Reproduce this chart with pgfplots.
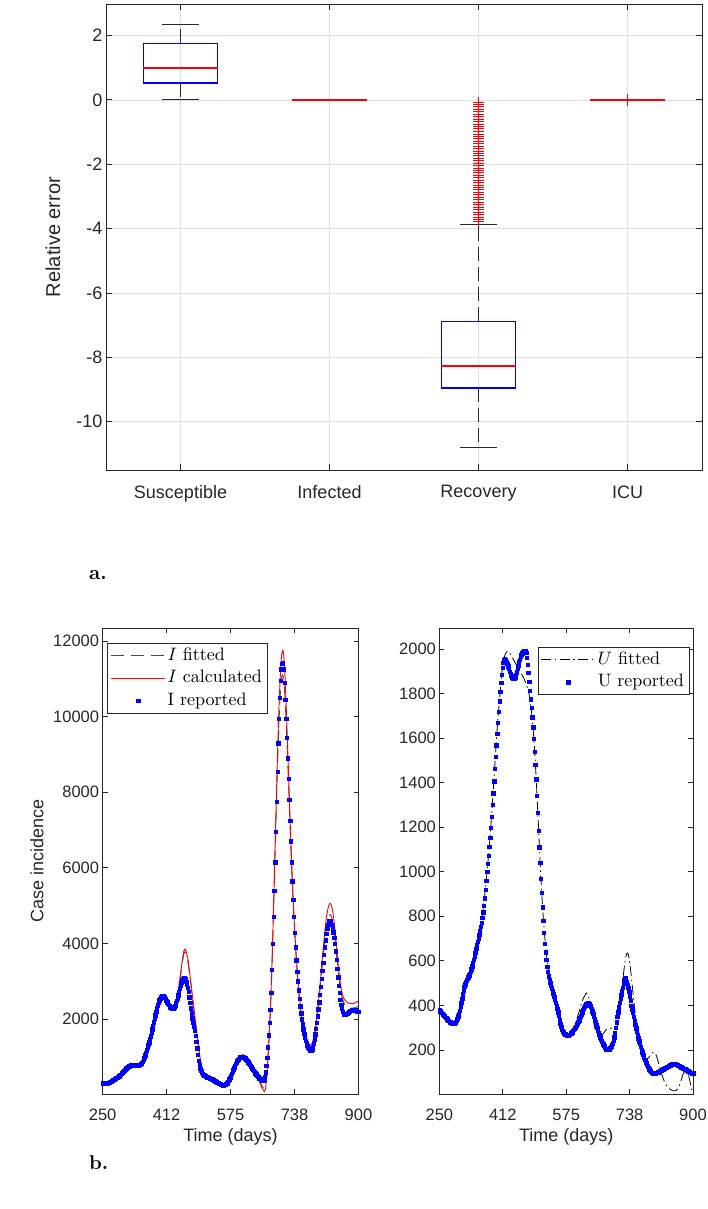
\documentclass[border=0pt]{standalone}
\usepackage{graphicx}
\usepackage{pgfplots}
\pgfplotsset{compat=1.18}
\usepackage{fontspec}
\setsansfont{Liberation Sans}

\definecolor{axgray}{RGB}{38,38,38}
\definecolor{gridgray}{RGB}{223,223,223}
\definecolor{whisk}{RGB}{40,40,40}
\definecolor{mblue}{RGB}{0,0,255}
\definecolor{mred}{RGB}{255,0,0}

\newcommand\tickA{\sffamily\fontsize{18}{20}\selectfont}
\newcommand\labA{\sffamily\fontsize{20}{22}\selectfont}
\newcommand\tickB{\sffamily\fontsize{16.5}{18}\selectfont}
\newcommand\labB{\sffamily\fontsize{18}{20}\selectfont}
% legend text: 10pt design size, enlarged
\newcommand\leg[1]{\scalebox{1.8}{\fontsize{10}{12}\selectfont #1}}

\pgfplotsset{
  matlabframe/.style={
    scale only axis,
    axis line style={axgray, line width=0.8pt},
    tick style={axgray, line width=0.8pt},
    tick align=inside, xtick pos=both, ytick pos=both,
    scaled ticks=false,
  },
  panelb/.style={
    matlabframe,
    height=466.3pt,
    major tick length=5pt,
    xmin=250, xmax=900,
    xtick={250,412.5,575,737.5,900},
    xticklabels={250,412,575,738,900},
    tick label style={font=\tickB, text=axgray},
    xticklabel style={yshift=-11pt},
    xlabel={Time (days)},
    xlabel style={font=\labB, text=axgray, at={(axis description cs:0.5,-0.092)}, anchor=center},
    legend cell align=left,
    legend style={draw=axgray, line width=0.6pt, fill=white,
      inner xsep=3pt, inner ysep=1pt,
      nodes={inner sep=2pt, text height=13.5pt, text depth=5pt}},
    legend image code/.code={\draw[mark repeat=2,mark phase=2,#1] plot coordinates {(0pt,0pt)(27pt,0pt)(54pt,0pt)};},
  },
}

\begin{document}
\begin{tikzpicture}[x=1pt,y=1pt]
\path[use as bounding box] (0pt,0pt) rectangle (708pt,1209pt);

% ---------------- a. relative error box plots ----------------
\begin{axis}[
  matlabframe,
  at={(106pt,739pt)}, anchor=south west,
  width=596pt, height=466pt,
  xmin=0.5, xmax=4.5, ymin=-11.5, ymax=2.98,
  xtick={1,2,3,4}, xticklabels={Susceptible,Infected,Recovery,ICU},
  ytick={-10,-8,-6,-4,-2,0,2}, yticklabels={-10,-8,-6,-4,-2,0,2},
  major tick length=6pt,
  grid=major, major grid style={gridgray, line width=0.6pt},
  tick label style={font=\tickA, text=axgray},
  xticklabel style={yshift=-12pt},
  ylabel={Relative error},
  ylabel style={font=\labA, text=axgray, at={(axis description cs:-0.0889,0.5)}, anchor=center},
]
% whiskers (dashed) and caps
\addplot[whisk, line width=0.9pt, dash pattern=on 14pt off 6pt] coordinates {(1,1.76) (1,2.35)};
\addplot[whisk, line width=0.9pt, dash pattern=on 14pt off 6pt] coordinates {(1,0.53) (1,0)};
\addplot[whisk, line width=0.9pt] coordinates {(0.875,2.35) (1.125,2.35)};
\addplot[whisk, line width=0.9pt] coordinates {(0.875,0) (1.125,0)};
\addplot[whisk, line width=0.9pt] coordinates {(1.875,0) (2.125,0)};
\addplot[whisk, line width=0.9pt, dash pattern=on 14pt off 6pt] coordinates {(3,-6.88) (3,-3.86)};
\addplot[whisk, line width=0.9pt, dash pattern=on 14pt off 6pt] coordinates {(3,-8.95) (3,-10.8)};
\addplot[whisk, line width=0.9pt] coordinates {(2.875,-3.86) (3.125,-3.86)};
\addplot[whisk, line width=0.9pt] coordinates {(2.875,-10.8) (3.125,-10.8)};
\addplot[whisk, line width=0.9pt] coordinates {(3.875,0) (4.125,0)};
% boxes
\addplot[mblue, line width=1.4pt] coordinates {(0.75,0.53) (1.25,0.53) (1.25,1.76) (0.75,1.76) (0.75,0.53)};
\addplot[mblue, line width=1.4pt] coordinates {(1.75,0) (2.25,0)};
\addplot[mblue, line width=1.4pt] coordinates {(2.75,-8.95) (3.25,-8.95) (3.25,-6.88) (2.75,-6.88) (2.75,-8.95)};
\addplot[mblue, line width=1.4pt] coordinates {(3.75,0) (4.25,0)};
% medians
\addplot[mred, line width=1.6pt] coordinates {(0.75,1.0) (1.25,1.0)};
\addplot[mred, line width=1.6pt] coordinates {(1.75,0) (2.25,0)};
\addplot[mred, line width=1.6pt] coordinates {(2.75,-8.26) (3.25,-8.26)};
\addplot[mred, line width=1.6pt] coordinates {(3.75,0) (4.25,0)};
% outliers
\addplot[only marks, mark=+, mred, mark size=5.5pt, line width=1pt] coordinates {
 (3,-3.78) (3,-3.71) (3,-3.64) (3,-3.56) (3,-3.49) (3,-3.41) (3,-3.33) (3,-3.26) (3,-3.18) (3,-3.11)
 (3,-3.03) (3,-2.95) (3,-2.88) (3,-2.80) (3,-2.73) (3,-2.65) (3,-2.57) (3,-2.50) (3,-2.42) (3,-2.35)
 (3,-2.27) (3,-2.20) (3,-2.12) (3,-2.04) (3,-1.97) (3,-1.89) (3,-1.82) (3,-1.74) (3,-1.66) (3,-1.59)
 (3,-1.51) (3,-1.44) (3,-1.36) (3,-1.28) (3,-1.21) (3,-1.13) (3,-1.06) (3,-0.98) (3,-0.90) (3,-0.83)
 (3,-0.75) (3,-0.68) (3,-0.60) (3,-0.52) (3,-0.45) (3,-0.37) (3,-0.30) (3,-0.22) (3,-0.14) (3,-0.07)};
\addplot[only marks, mark=+, mred, mark size=6pt, line width=1.1pt] coordinates {(4,0)};
\end{axis}

\node[anchor=base west, inner sep=0pt] at (89pt,629pt) {\scalebox{2}{\fontsize{10}{12}\selectfont\bfseries a.}};

% ---------------- b. left: I ----------------
\begin{axis}[
  panelb,
  at={(102.6pt,114.7pt)}, anchor=south west,
  width=255.9pt,
  ymin=10, ymax=12344,
  ytick={2000,4000,6000,8000,10000,12000},
  yticklabels={2000,4000,6000,8000,10000,12000},
  ylabel={Case incidence},
  ylabel style={font=\labB, text=axgray, at={(axis description cs:-0.2563,0.5)}, anchor=center},
  legend style={at={(axis description cs:0.0188,0.967)}, anchor=north west},
]
\addplot[black!70, line width=0.9pt, dash pattern=on 13pt off 7pt, smooth] coordinates {
 (250,300) (260,305) (270,340) (280,405) (290,475) (300,580) (310,700) (320,768) (330,784) (340,783)
 (346,800) (352,880) (360,1110) (368,1390) (376,1730) (384,2100) (392,2440) (400,2590) (406,2580) (414,2450)
 (420,2345) (427,2285) (434,2370) (440,2600) (446,3000) (452,3450) (456,3700) (459,3780) (462,3740) (466,3560)
 (470,3270) (476,2760) (482,2250) (488,1740) (494,1230) (500,830) (505,620) (510,520) (520,445) (530,390)
 (540,330) (550,275) (556,253) (562,268) (568,335) (576,500) (584,710) (592,900) (600,1000) (606,1030)
 (612,990) (620,870) (630,700) (640,530) (648,380) (654,250) (658,180) (661,160) (664,230) (667,500)
 (670,1000) (674,1720) (678,2700) (682,4000) (686,5550) (690,7100) (694,8600) (698,9850) (702,10700) (705,11050)
 (708,11100) (711,10850) (714,10350) (718,9400) (722,8300) (726,7150) (730,6050) (734,5100) (738,4250) (744,3250)
 (750,2500) (756,1950) (762,1570) (768,1340) (774,1240) (778,1230) (782,1280) (788,1520) (794,1950) (800,2520)
 (806,3180) (812,3840) (818,4400) (824,4700) (828,4760) (832,4680) (836,4460) (840,4120) (846,3500) (852,2950)
 (858,2580) (864,2400) (870,2330) (876,2300) (882,2290) (888,2295) (894,2310) (900,2340)};
\addlegendentry{\leg{$I$ fitted}}
\addplot[mred, line width=0.9pt, smooth] coordinates {
 (250,300) (260,305) (270,340) (280,405) (290,475) (300,580) (310,700) (320,768) (330,784) (340,783)
 (346,800) (352,880) (360,1110) (368,1390) (376,1730) (384,2100) (392,2440) (400,2600) (406,2590) (414,2450)
 (420,2345) (427,2285) (434,2380) (440,2620) (446,3050) (452,3520) (456,3780) (459,3850) (462,3800) (466,3620)
 (470,3320) (476,2800) (482,2280) (488,1760) (494,1240) (500,830) (505,620) (510,520) (520,445) (530,390)
 (540,330) (550,275) (556,253) (562,268) (568,335) (576,505) (584,720) (592,920) (600,1030) (606,1060)
 (612,1010) (620,880) (630,700) (640,520) (648,350) (654,200) (658,120) (661,85) (664,170) (667,480)
 (670,1000) (674,1750) (678,2750) (682,4100) (686,5700) (690,7300) (694,8900) (698,10250) (702,11200) (705,11650)
 (708,11750) (711,11500) (714,10900) (718,9800) (722,8600) (726,7350) (730,6200) (734,5200) (738,4350) (744,3350)
 (750,2600) (756,2050) (762,1680) (768,1450) (774,1340) (778,1320) (782,1360) (788,1600) (794,2050) (800,2650)
 (806,3350) (812,4050) (818,4650) (824,4990) (828,5060) (832,4980) (836,4750) (840,4380) (846,3700) (852,3100)
 (858,2700) (864,2520) (870,2450) (876,2420) (882,2410) (888,2415) (894,2440) (900,2490)};
\addlegendentry{\leg{$I$ calculated}}
\addplot[only marks, mark=square*, mblue, mark size=1.7pt] coordinates {
 (250,300) (252,300) (254,300) (256,301) (258,302) (260,304) (262,307) (264,312) (266,319) (268,328)
 (270,339) (272,351) (274,364) (276,378) (278,392) (280,406) (282,420) (284,434) (286,448) (288,461)
 (290,474) (292,490) (294,510) (296,532) (298,556) (300,580) (302,604) (304,628) (306,652) (308,676)
 (310,698) (312,716) (314,732) (316,746) (318,758) (320,768) (322,776) (324,781) (326,783) (328,784)
 (330,784) (332,783) (334,782) (336,782) (338,782) (340,783) (342,785) (344,790) (346,800) (348,818)
 (350,845) (352,880) (354,925) (356,980) (358,1045) (360,1112) (362,1180) (364,1248) (366,1318) (368,1390)
 (370,1468) (372,1552) (374,1640) (376,1730) (378,1822) (380,1915) (382,2010) (384,2105) (386,2200) (388,2290)
 (390,2370) (392,2438) (394,2495) (396,2540) (398,2575) (400,2600) (402,2612) (404,2608) (406,2590) (408,2562)
 (410,2528) (412,2490) (414,2450) (416,2410) (418,2375) (420,2345) (422,2318) (424,2298) (426,2285) (428,2282)
 (430,2292) (432,2318) (434,2360) (436,2415) (438,2480) (440,2555) (442,2635) (444,2720) (446,2805) (448,2888)
 (450,2960) (452,3020) (454,3065) (456,3090) (458,3085) (460,3050) (462,2990) (464,2920) (466,2830) (468,2720)
 (470,2580) (472,2430) (474,2290) (476,2150) (478,2020) (480,1900) (482,1800) (484,1700) (486,1560) (488,1400)
 (490,1230) (492,1060) (494,900) (496,780) (498,690) (500,630) (502,590) (504,560) (506,535) (508,515)
 (510,500) (512,488) (514,476) (516,466) (518,456) (520,446) (522,436) (524,426) (526,416) (528,405)
 (530,394) (532,382) (534,370) (536,358) (538,346) (540,334) (542,322) (544,310) (546,298) (548,287)
 (550,276) (552,266) (554,258) (556,253) (558,252) (560,256) (562,266) (564,283) (566,306) (568,335)
 (570,370) (572,410) (574,455) (576,505) (578,558) (580,612) (582,665) (584,717) (586,767) (588,813)
 (590,855) (592,892) (594,925) (596,952) (598,974) (600,990) (602,1001) (604,1006) (606,1005) (608,998)
 (610,985) (612,966) (614,943) (616,916) (618,886) (620,855) (622,822) (624,789) (626,755) (628,722)
 (630,690) (632,658) (634,627) (636,597) (638,568) (640,540) (642,513) (644,487) (646,462) (648,438)
 (650,415) (652,394) (654,377) (656,368) (658,372) (660,400) (662,470) (664,590) (666,760) (668,985)
 (670,1260) (672,1570) (674,1900) (676,2250) (678,2700) (680,3300) (682,4000) (684,4700) (686,5400) (688,6150)
 (690,6950) (692,7750) (694,8550) (696,9300) (698,9950) (700,10500) (702,10950) (704,11250) (706,11400) (708,11410)
 (710,11250) (712,10900) (714,10450) (716,9950) (718,9450) (720,8900) (722,8350) (724,7800) (726,7250) (728,6700)
 (730,6150) (732,5650) (734,5150) (736,4700) (738,4280) (740,3900) (742,3560) (744,3260) (746,3000) (748,2760)
 (750,2540) (752,2340) (754,2160) (756,2000) (758,1860) (760,1730) (762,1615) (764,1515) (766,1430) (768,1360)
 (770,1300) (772,1250) (774,1210) (776,1180) (778,1165) (780,1170) (782,1200) (784,1260) (786,1350) (788,1465)
 (790,1600) (792,1750) (794,1910) (796,2080) (798,2260) (800,2450) (802,2650) (804,2860) (806,3070) (808,3280)
 (810,3490) (812,3700) (814,3900) (816,4090) (818,4260) (820,4400) (822,4500) (824,4570) (826,4600) (828,4590)
 (830,4550) (832,4490) (834,4410) (836,4300) (838,4160) (840,3990) (842,3790) (844,3570) (846,3340) (848,3110)
 (850,2890) (852,2690) (854,2520) (856,2380) (858,2270) (860,2190) (862,2140) (864,2115) (866,2110) (868,2118)
 (870,2135) (872,2155) (874,2175) (876,2195) (878,2210) (880,2222) (882,2232) (884,2240) (886,2247) (888,2252)
 (890,2255) (892,2250) (894,2235) (896,2210) (898,2195) (900,2200)};
\addlegendentry{\leg{I reported}}
\end{axis}

% ---------------- b. right: U ----------------
\begin{axis}[
  panelb,
  at={(439.4pt,114.7pt)}, anchor=south west,
  width=253.6pt,
  ymin=1, ymax=2094,
  ytick={200,400,600,800,1000,1200,1400,1600,1800,2000},
  yticklabels={200,400,600,800,1000,1200,1400,1600,1800,2000},
  legend style={at={(axis description cs:0.9854,0.9586)}, anchor=north east},
]
\addplot[black, line width=0.8pt, dash pattern=on 10pt off 3.5pt on 1.5pt off 3.5pt, smooth] coordinates {
 (250,378) (260,356) (270,337) (280,322) (288,320) (296,340) (304,395) (312,465) (320,512) (330,555)
 (340,625) (350,705) (360,800) (370,960) (380,1160) (390,1420) (398,1640) (404,1770) (410,1890) (416,1960)
 (420,1980) (426,1990) (434,1970) (442,1945) (450,1920) (458,1895) (466,1870) (474,1835) (480,1795) (486,1720)
 (492,1600) (498,1420) (504,1200) (510,980) (516,800) (522,670) (528,575) (536,500) (546,430) (556,360)
 (566,290) (576,262) (586,275) (596,310) (606,360) (616,420) (623,445) (627,456) (632,440) (640,385)
 (648,300) (656,270) (664,262) (672,278) (680,296) (688,298) (696,292) (702,292) (708,320) (714,400)
 (720,510) (726,600) (731,635) (735,622) (740,560) (746,460) (752,360) (758,275) (764,210) (770,170)
 (776,155) (782,158) (788,170) (794,185) (800,190) (806,175) (812,140) (820,90) (830,45) (840,25)
 (848,17) (856,17) (862,28) (868,55) (874,88) (880,108) (884,108) (888,90) (892,60) (896,28) (900,5)};
\addlegendentry{\leg{$U$ fitted}}
\addplot[only marks, mark=square*, mblue, mark size=1.7pt] coordinates {
 (250,378) (252,374) (254,370) (256,366) (258,362) (260,358) (262,354) (264,350) (266,346) (268,342)
 (270,338) (272,334) (274,331) (276,328) (278,325) (280,323) (282,321) (284,320) (286,320) (288,321)
 (290,323) (292,327) (294,333) (296,341) (298,351) (300,363) (302,377) (304,393) (306,411) (308,430)
 (310,450) (312,468) (314,483) (316,495) (318,505) (320,513) (322,520) (324,527) (326,535) (328,543)
 (330,552) (332,563) (334,576) (336,590) (338,605) (340,621) (342,637) (344,654) (346,670) (348,686)
 (350,702) (352,718) (354,735) (356,753) (358,772) (360,793) (362,818) (364,848) (366,882) (368,920)
 (370,960) (372,999) (374,1036) (376,1073) (378,1111) (380,1152) (382,1198) (384,1248) (386,1300) (388,1353)
 (390,1407) (392,1462) (394,1516) (396,1568) (398,1620) (400,1670) (402,1718) (404,1765) (406,1808) (408,1848)
 (410,1885) (412,1915) (414,1938) (416,1952) (418,1955) (420,1950) (422,1942) (424,1933) (426,1922) (428,1910)
 (430,1899) (432,1889) (434,1880) (436,1873) (438,1868) (440,1866) (442,1868) (444,1874) (446,1884) (448,1896)
 (450,1910) (452,1925) (454,1940) (456,1953) (458,1964) (460,1973) (462,1980) (464,1985) (466,1989) (468,1991)
 (470,1990) (472,1982) (474,1962) (476,1930) (478,1892) (480,1852) (482,1812) (484,1774) (486,1735) (488,1694)
 (490,1648) (492,1597) (494,1540) (496,1480) (498,1415) (500,1342) (502,1265) (504,1185) (506,1110) (508,1040)
 (510,970) (512,905) (514,840) (516,780) (518,725) (520,678) (522,638) (524,604) (526,575) (528,551)
 (530,531) (532,515) (534,501) (536,489) (538,478) (540,466) (542,453) (544,440) (546,426) (548,413)
 (550,400) (552,386) (554,370) (556,353) (558,335) (560,318) (562,304) (564,293) (566,285) (568,279)
 (570,274) (572,271) (574,268) (576,267) (578,266) (580,266) (582,267) (584,269) (586,272) (588,276)
 (590,280) (592,285) (594,290) (596,295) (598,300) (600,305) (602,311) (604,318) (606,326) (608,334)
 (610,343) (612,352) (614,361) (616,370) (618,379) (620,387) (622,394) (624,400) (626,405) (628,408)
 (630,410) (632,409) (634,406) (636,400) (638,393) (640,384) (642,374) (644,364) (646,352) (648,340)
 (650,327) (652,314) (654,301) (656,289) (658,278) (660,268) (662,258) (664,249) (666,240) (668,232)
 (670,225) (672,218) (674,212) (676,207) (678,203) (680,201) (682,200) (684,201) (686,204) (688,209)
 (690,215) (692,222) (694,230) (696,241) (698,257) (700,277) (702,300) (704,325) (706,350) (708,370)
 (710,392) (712,412) (714,430) (716,447) (718,463) (720,480) (722,500) (724,515) (726,522) (728,518)
 (730,507) (732,494) (734,480) (736,462) (738,441) (740,420) (742,400) (744,382) (746,366) (748,348)
 (750,331) (752,313) (754,297) (756,281) (758,266) (760,252) (762,239) (764,227) (766,214) (768,202)
 (770,190) (772,178) (774,167) (776,157) (778,149) (780,142) (782,135) (784,127) (786,120) (788,113)
 (790,107) (792,102) (794,99) (796,97) (798,96) (800,95) (802,95) (804,96) (806,97) (808,98)
 (810,100) (812,101) (814,104) (816,106) (818,108) (820,110) (822,112) (824,114) (826,116) (828,118)
 (830,120) (832,122) (834,124) (836,126) (838,128) (840,130) (842,132) (844,134) (846,136) (848,137)
 (850,137) (852,137) (854,136) (856,135) (858,133) (860,132) (862,130) (864,129) (866,127) (868,125)
 (870,123) (872,121) (874,118) (876,117) (878,115) (880,113) (882,111) (884,109) (886,107) (888,105)
 (890,103) (892,101) (894,99) (896,98) (898,96) (900,95)};
\addlegendentry{\leg{U reported}}
\end{axis}

\node[anchor=base west, inner sep=0pt] at (89pt,39pt) {\scalebox{2}{\fontsize{10}{12}\selectfont\bfseries b.}};
\end{tikzpicture}
\end{document}
